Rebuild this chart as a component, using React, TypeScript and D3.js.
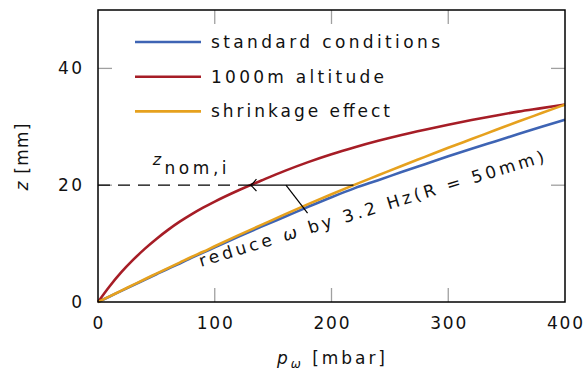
import React from 'react';
import * as d3 from 'd3';

// pressure p_omega [mbar]
const pressure = [0, 10, 20, 30, 40, 50, 60, 70, 80, 90, 100, 120, 140, 160, 180, 200, 220, 240, 260, 280, 300, 320, 340, 360, 380, 400];
// z [mm] for each case
const standardZ = [0, 0.95, 1.9, 2.85, 3.8, 4.75, 5.7, 6.6, 7.55, 8.45, 9.35, 11.15, 12.9, 14.6, 16.3, 17.95, 19.5, 20.85, 22.25, 23.6, 24.95, 26.25, 27.5, 28.75, 30.0, 31.2];
const altitudeZ = [0, 2.7, 5.1, 7.2, 9.1, 10.8, 12.35, 13.75, 15.0, 16.15, 17.2, 19.1, 20.8, 22.45, 23.95, 25.3, 26.5, 27.6, 28.6, 29.5, 30.35, 31.15, 31.9, 32.6, 33.2, 33.8];
const shrinkZ = [0, 0.97, 1.95, 2.92, 3.9, 4.85, 5.8, 6.75, 7.7, 8.6, 9.55, 11.4, 13.2, 15.0, 16.75, 18.45, 20.1, 21.7, 23.3, 24.85, 26.4, 27.9, 29.4, 30.9, 32.35, 33.8];

const seriesNames = ['standard conditions', '1000m altitude', 'shrinkage effect'];
const seriesColors = ['#3e64b4', '#a61d26', '#e6a11e'];
const legendWidths = [229, 173, 179];
const xTicks = [0, 100, 200, 300, 400];
const yTicks = [0, 20, 40];

const nominalZ = 20;

const W = 587;
const H = 375;
const font = '"DejaVu Sans", sans-serif';

// x where a series first reaches value v (linear between samples)
const crossing = (ys: number[], v: number) => {
  for (let i = 1; i < ys.length; i++) {
    if (ys[i] >= v) {
      const t = (v - ys[i - 1]) / (ys[i] - ys[i - 1]);
      return pressure[i - 1] + t * (pressure[i] - pressure[i - 1]);
    }
  }
  return pressure[pressure.length - 1];
};

// rough width of a number label in the reference
const numWidth = (t: number) => String(t).length * 12;

export default function App() {
  const x = d3.scaleLinear().domain([0, 400]).range([98, 565]);
  const y = d3.scaleLinear().domain([0, 50]).range([302, 10]);

  const series = [standardZ, altitudeZ, shrinkZ];
  const line = d3
    .line<number>()
    .x((_, i) => x(pressure[i]))
    .y((d) => y(d))
    .curve(d3.curveMonotoneX);

  const redX = crossing(altitudeZ, nominalZ);
  const yellowX = crossing(shrinkZ, nominalZ);
  const tipX = x(redX);
  const yN = y(nominalZ);

  const tickLen = 14;

  return (
    <svg width={W} height={H} style={{ position: 'absolute', left: 0, top: 0, background: '#fff' }}>
      <g fontFamily={font} fill='#111'>
        {/* ticks */}
        {xTicks.slice(1, -1).map((t) => (
          <g key={'xt' + t} stroke='#a0a0a0' strokeWidth={1.3}>
            <line x1={x(t)} x2={x(t)} y1={y(0)} y2={y(0) - tickLen} />
            <line x1={x(t)} x2={x(t)} y1={y(50)} y2={y(50) + tickLen} />
          </g>
        ))}
        {yTicks.slice(1).map((t) => (
          <g key={'yt' + t} stroke='#a0a0a0' strokeWidth={1.3}>
            <line x1={x(0)} x2={x(0) + tickLen} y1={y(t)} y2={y(t)} />
            <line x1={x(400)} x2={x(400) - tickLen} y1={y(t)} y2={y(t)} />
          </g>
        ))}

        {/* curves */}
        {series.map((s, i) => (
          <path key={i} d={line(s) || ''} fill='none' stroke={seriesColors[i]} strokeWidth={2.6} />
        ))}

        {/* annotation */}
        <line x1={x(0)} x2={tipX} y1={yN} y2={yN} stroke='#000' strokeWidth={1.2} strokeDasharray='12 8' />
        <line x1={tipX} x2={x(yellowX)} y1={yN} y2={yN} stroke='#000' strokeWidth={1.2} />
        <path
          d={`M${tipX + 6},${yN - 6} Q${tipX + 2},${yN - 1} ${tipX},${yN} Q${tipX + 2},${yN + 1} ${tipX + 6},${yN + 6}`}
          fill='none'
          stroke='#000'
          strokeWidth={1.2}
        />
        <line x1={x(161)} y1={yN} x2={x(179.5)} y2={y(15.2)} stroke='#000' strokeWidth={1.2} />
        <text
          x={x(88.2)}
          y={y(6.0)}
          fontSize={17}
          textLength={360}
          lengthAdjust='spacing'
          transform={`rotate(-17 ${x(88.2)} ${y(6.0)})`}
        >
          reduce <tspan fontStyle='italic'>ω</tspan> by 3.2 Hz(R = 50mm)
        </text>
        <text x={x(47)} y={y(23.4)} fontSize={16} fontStyle='italic'>z</text>
        <text x={x(57)} y={y(21.9)} fontSize={17} textLength={62} lengthAdjust='spacing'>nom,i</text>

        {/* legend */}
        {seriesNames.map((n, i) => (
          <g key={n} transform={`translate(135, ${42 + i * 34.7})`}>
            <line x1={0} x2={66} y1={0} y2={0} stroke={seriesColors[i]} strokeWidth={2.6} />
            <text x={76} y={6} fontSize={17} textLength={legendWidths[i]} lengthAdjust='spacing'>
              {n}
            </text>
          </g>
        ))}

        {/* frame */}
        <rect x={x(0)} y={y(50)} width={x(400) - x(0)} height={y(0) - y(50)} fill='none' stroke='#000' strokeWidth={1.5} />

        {/* tick labels */}
        {xTicks.map((t) => (
          <text key={'xl' + t} x={x(t)} y={y(0) + 27} fontSize={17} textAnchor='middle' textLength={numWidth(t)} lengthAdjust='spacing'>
            {t}
          </text>
        ))}
        {yTicks.map((t) => (
          <text key={'yl' + t} x={x(0) - 16} y={y(t) + 6} fontSize={17} textAnchor='end' textLength={numWidth(t)} lengthAdjust='spacing'>
            {t}
          </text>
        ))}

        {/* axis labels */}
        <text x={331} y={364} fontSize={17} textAnchor='middle' textLength={108} lengthAdjust='spacing'>
          <tspan fontStyle='italic'>p</tspan>
          <tspan fontStyle='italic' fontSize={12} dy={4}>ω</tspan>
          <tspan dy={-4}> [mbar]</tspan>
        </text>
        <text transform={`translate(28, 157) rotate(-90)`} fontSize={17} textAnchor='middle' textLength={67} lengthAdjust='spacing'>
          <tspan fontStyle='italic'>z</tspan> [mm]
        </text>
      </g>
    </svg>
  );
}
